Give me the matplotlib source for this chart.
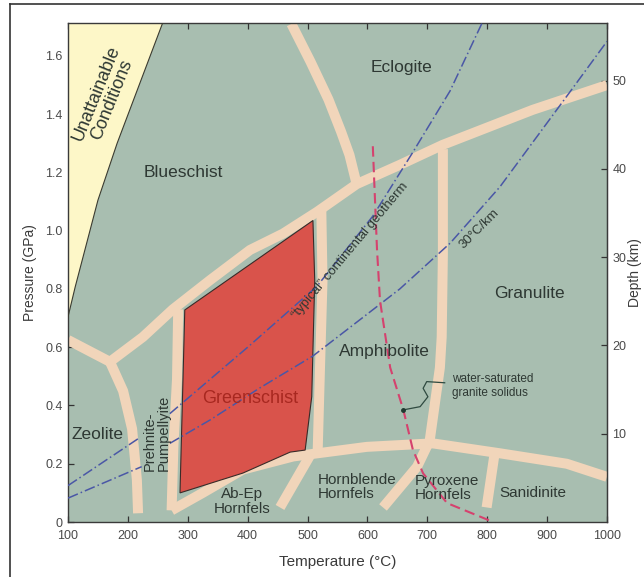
import numpy as np
import matplotlib.pyplot as plt
from matplotlib.lines import Line2D

plt.rcParams['font.family'] = ['Liberation Sans', 'DejaVu Sans']

GREEN = '#a8beb0'
BEIGE = '#f1d5ba'
RED = '#d9534b'
YELLOW = '#fdf7c8'
TEXT = '#2e3833'

# facies boundaries: temperature (C), pressure (GPa)
main_T = [100, 170, 225, 275, 337, 404, 459, 516, 582, 654, 726, 876, 1000]
main_P = [0.625, 0.55, 0.635, 0.73, 0.83, 0.934, 0.99, 1.065, 1.16, 1.226, 1.295, 1.415, 1.50]
zeolite_T = [170, 192, 207, 215, 217]
zeolite_P = [0.55, 0.45, 0.32, 0.145, 0.03]
eclogite_T = [473, 505, 535, 556, 570, 582]
eclogite_P = [1.71, 1.58, 1.45, 1.34, 1.26, 1.16]
amph_T = [523, 525, 521, 517]
amph_P = [1.07, 0.83, 0.545, 0.25]
prehnite_T = [284, 282, 276, 273]
prehnite_P = [0.73, 0.49, 0.26, 0.04]
low_T = [273, 325, 392, 476, 532, 599, 709, 821, 933, 1000]
low_P = [0.04, 0.10, 0.18, 0.225, 0.24, 0.258, 0.27, 0.236, 0.20, 0.155]
hbl_T = [506, 454]
hbl_P = [0.235, 0.05]
granulite_T = [726, 726, 724, 721, 704, 683, 626]
granulite_P = [1.28, 0.92, 0.635, 0.53, 0.28, 0.19, 0.05]
sanid_T = [812, 799]
sanid_P = [0.23, 0.05]

bands = [(main_T, main_P), (zeolite_T, zeolite_P), (eclogite_T, eclogite_P),
         (amph_T, amph_P), (prehnite_T, prehnite_P), (low_T, low_P),
         (hbl_T, hbl_P), (granulite_T, granulite_P), (sanid_T, sanid_P)]

# greenschist field and unattainable region
green_T = [295, 509, 512, 507, 496, 471, 392, 287, 292]
green_P = [0.728, 1.035, 0.83, 0.43, 0.247, 0.24, 0.168, 0.10, 0.49]
unat_T = [100, 112, 150, 182, 258]
unat_P = [0.704, 0.807, 1.105, 1.30, 1.713]

# geotherms (gap where the Prehnite-Pumpellyite label sits)
typ_T = [100, 220, 270, 400, 516, 609, 676, 738, 793]
typ_P = [0.125, 0.29, 0.372, 0.60, 0.81, 1.05, 1.27, 1.48, 1.72]
g30_T = [100, 223, 270, 337, 420, 509, 654, 738, 821, 943, 1000]
g30_P = [0.082, 0.19, 0.27, 0.35, 0.46, 0.57, 0.80, 0.957, 1.15, 1.49, 1.65]

# water-saturated granite solidus
sol_T = [609, 616, 621, 638, 660, 676, 693, 733, 810]
sol_P = [1.29, 0.935, 0.76, 0.53, 0.385, 0.247, 0.167, 0.065, 0.0]
lead_T = [729, 699, 693, 701, 688, 660]
lead_P = [0.478, 0.482, 0.459, 0.430, 0.396, 0.385]

# labels
facies_names = ['Blueschist', 'Eclogite', 'Granulite', 'Amphibolite', 'Zeolite']
facies_T = [292, 657, 871, 629, 149]
facies_P = [1.20, 1.56, 0.786, 0.585, 0.30]
minor_names = ['Ab-Ep\nHornfels', 'Hornblende\nHornfels', 'Pyroxene\nHornfels', 'Sanidinite']
minor_T = [390, 582, 733, 876]
minor_P = [0.07, 0.12, 0.117, 0.10]
minor_align = ['center', 'left', 'left', 'center']

fig = plt.figure(figsize=(6.44, 5.77), dpi=100)
ax = fig.add_axes([0.1056, 0.0953, 0.8369, 0.8648])
ax.set_facecolor(GREEN)
ax.set_xlim(100, 1000)
ax.set_ylim(0, 1.713)

for T, P in bands:
    ax.plot(T, P, color=BEIGE, lw=7.2, solid_capstyle='butt',
            solid_joinstyle='round', zorder=2)

ax.fill(unat_T + [100], unat_P + [unat_P[-1]], color=YELLOW, lw=0, zorder=2)
ax.plot(unat_T, unat_P, color='#3b3b30', lw=0.8, zorder=3)

ax.fill(green_T, green_P, facecolor=RED, edgecolor='#3a2b28', lw=0.8, zorder=3)

geo_style = dict(color='#4a57a6', lw=1.1, linestyle=(0, (7, 2, 1, 2)), zorder=4)
ax.plot(typ_T[:2], typ_P[:2], **geo_style)
ax.plot(typ_T[2:], typ_P[2:], **geo_style)
ax.plot(g30_T[:2], g30_P[:2], **geo_style)
ax.plot(g30_T[2:], g30_P[2:], **geo_style)

ax.plot(sol_T, sol_P, color='#d5426e', lw=1.5, linestyle=(0, (5, 2.5)), zorder=4)
ax.plot(lead_T, lead_P, color='#2f4a40', lw=0.9, zorder=4)
ax.plot(lead_T[-1], lead_P[-1], 'o', color='#1f3a30', ms=2.5, zorder=5)

for name, T, P in zip(facies_names, facies_T, facies_P):
    ax.text(T, P, name, fontsize=12.5, color=TEXT, ha='center', va='center', zorder=6)
ax.text(404, 0.425, 'Greenschist', fontsize=13, color='#a82820',
        ha='center', va='center', zorder=6)
for name, T, P, al in zip(minor_names, minor_T, minor_P, minor_align):
    ax.text(T, P, name, fontsize=11, color=TEXT, ha='center', va='center',
            multialignment=al, linespacing=1.05, zorder=6)
ax.text(248, 0.305, 'Prehnite-\nPumpellyite', fontsize=10.5, color=TEXT,
        rotation=90, ha='center', va='center', multialignment='left',
        linespacing=0.95, zorder=6)
ax.text(161, 1.46, 'Unattainable\nConditions', fontsize=13, color=TEXT,
        rotation=68, ha='center', va='center', multialignment='center',
        linespacing=1.0, zorder=6)
ax.text(571, 0.93, '\u201ctypical\u201d continental geotherm', fontsize=9.5,
        color=TEXT, rotation=50, ha='center', va='center', zorder=6)
ax.text(786, 1.006, '30\u00b0C/km', fontsize=9.5, color=TEXT, rotation=45,
        ha='center', va='center', zorder=6)
ax.text(741, 0.51, 'water-saturated\ngranite solidus', fontsize=8.5, color=TEXT,
        ha='left', va='top', linespacing=1.15, zorder=6)

ax.set_xticks(range(100, 1001, 100))
ax.set_yticks([0, 0.2, 0.4, 0.6, 0.8, 1.0, 1.2, 1.4, 1.6])
ax.set_yticklabels(['0', '0.2', '0.4', '0.6', '0.8', '1.0', '1.2', '1.4', '1.6'])
ax.tick_params(direction='in', length=4, width=0.9, top=True, right=False,
               labelsize=9, labelcolor='#4a4a4a', color='#333333', pad=6)
ax.tick_params(axis='y', pad=4)
for s in ax.spines.values():
    s.set_color('#3a3a3a')
    s.set_linewidth(1.0)

ax.set_xlabel('Temperature (\u00b0C)', fontsize=11, color='#3a3a3a', labelpad=9)
ax.set_ylabel('Pressure (GPa)', fontsize=10, color='#3a3a3a', labelpad=6)

sec = ax.secondary_yaxis('right', functions=(lambda p: p * 33.0, lambda d: d / 33.0))
sec.set_yticks([10, 20, 30, 40, 50])
sec.tick_params(direction='in', length=4, width=0.9, labelsize=9,
                labelcolor='#4a4a4a', color='#333333', pad=4)
sec.spines['right'].set_color('#3a3a3a')
sec.set_ylabel('Depth (km)', fontsize=10, color='#3a3a3a', labelpad=1)

fig.add_artist(Line2D([10 / 644, 10 / 644], [0, 1 - 4 / 577], transform=fig.transFigure,
                      color='#333333', lw=1.2))
fig.add_artist(Line2D([10 / 644, 1], [1 - 4 / 577, 1 - 4 / 577], transform=fig.transFigure,
                      color='#333333', lw=1.2))

fig.savefig('out.png', dpi=100)
